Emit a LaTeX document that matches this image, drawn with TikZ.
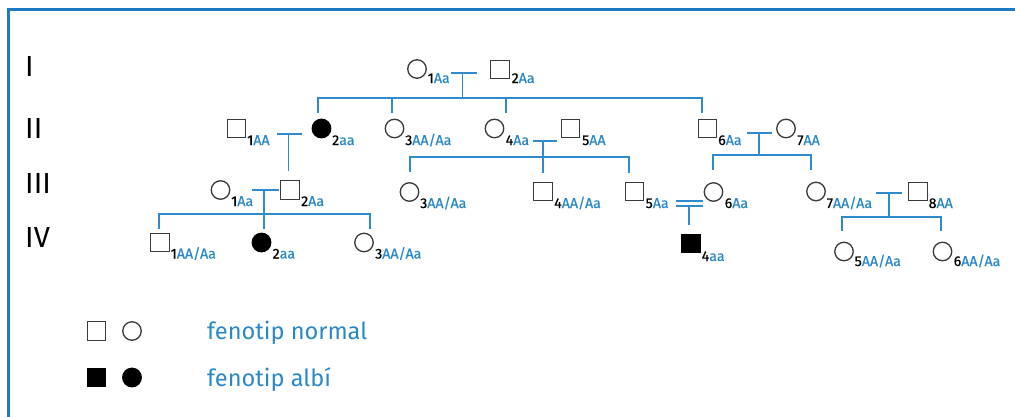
\documentclass[tikz,border=0pt]{standalone}
\usepackage{fontspec}
\setmainfont{Fira Sans}
\definecolor{frameblue}{HTML}{1C7BC0}
\definecolor{lineblue}{HTML}{2F8BCB}
\definecolor{txtblue}{HTML}{2A88C8}
\definecolor{symgray}{HTML}{3A3A3A}
\newcommand{\gt}[1]{\textcolor{txtblue}{#1}}
\tikzset{
  sq/.style={rectangle, draw=symgray, line width=1.3pt, minimum size=18.5pt, inner sep=0pt},
  ci/.style={circle, draw=symgray, line width=1.3pt, minimum size=18.5pt, inner sep=0pt},
  aff/.style={fill=black, draw=black},
  lbl/.style={anchor=base west, inner sep=0pt, font=\fontsize{14.2}{16}\selectfont\addfontfeatures{FakeBold=0.4}},
  gen/.style={anchor=base west, inner sep=0pt, font=\fontsize{29}{30}\selectfont},
  leg/.style={anchor=base west, inner sep=0pt, text=txtblue, font=\fontsize{23.6}{26}\selectfont},
  conn/.style={draw=lineblue, line width=1.5pt},
}
\begin{document}
\begin{tikzpicture}[x=1pt,y=-1pt]
\useasboundingbox (0,0) rectangle (1015,416);
% frame
\draw[frameblue, line width=3pt, line join=miter] (8,418) -- (8,9) -- (1017,9);
% generation labels
\node[gen] (gI) at (25,76) {I};
\node[gen] (gII) at (25,138) {II};
\node[gen] (gIII) at (25,193) {III};
\node[gen] (gIV) at (25,247) {IV};
% generation I
\node[ci] (i1) at (417,69) {};
\node[sq] (i2) at (500,69.5) {};
\node[lbl] (li1) at (427.5,83) {1\gt{Aa}};
\node[lbl] (li2) at (511.5,83) {2\gt{Aa}};
% generation II
\node[sq] (ii1) at (236.5,128.5) {};
\node[ci,aff] (ii2) at (321.5,128.5) {};
\node[ci] (ii3) at (394.5,128.5) {};
\node[ci] (ii4) at (494.5,128.5) {};
\node[sq] (ii5) at (570.5,128.5) {};
\node[sq] (ii6) at (707.5,128.5) {};
\node[ci] (ii7) at (786,128.5) {};
\node[lbl] (lii1) at (247,145) {1\gt{AA}};
\node[lbl] (lii2) at (332,145) {2\gt{aa}};
\node[lbl] (lii3) at (405,145) {3\gt{AA/Aa}};
\node[lbl] (lii4) at (505.5,145) {4\gt{Aa}};
\node[lbl] (lii5) at (582,145) {5\gt{AA}};
\node[lbl] (lii6) at (718,145) {6\gt{Aa}};
\node[lbl] (lii7) at (797,145) {7\gt{AA}};
% generation III
\node[ci] (iii1) at (220.5,190) {};
\node[sq] (iii2) at (290,190) {};
\node[ci] (iii3) at (409.5,192) {};
\node[sq] (iii4) at (543,191.5) {};
\node[sq] (iii5) at (634.5,191.5) {};
\node[ci] (iii6) at (713.5,192) {};
\node[ci] (iii7) at (816,191.5) {};
\node[sq] (iii8) at (918,191.5) {};
\node[lbl] (liii1) at (231,206) {1\gt{Aa}};
\node[lbl] (liii2) at (301,206) {2\gt{Aa}};
\node[lbl] (liii3) at (420,208) {3\gt{AA/Aa}};
\node[lbl] (liii4) at (554,208) {4\gt{AA/Aa}};
\node[lbl] (liii5) at (645.5,208) {5\gt{Aa}};
\node[lbl] (liii6) at (724.5,208) {6\gt{Aa}};
\node[lbl] (liii7) at (826.5,208) {7\gt{AA/Aa}};
\node[lbl] (liii8) at (928.5,208) {8\gt{AA}};
% generation IV
\node[sq] (iv1) at (160,242.5) {};
\node[ci,aff] (iv2) at (261.5,242.5) {};
\node[ci] (iv3) at (364,242.5) {};
\node[sq,aff] (iv4) at (691,243.5) {};
\node[ci] (iv5) at (844,251.5) {};
\node[ci] (iv6) at (942.5,251.5) {};
\node[lbl] (liv1) at (170.5,258.5) {1\gt{AA/Aa}};
\node[lbl] (liv2) at (272.5,258.5) {2\gt{aa}};
\node[lbl] (liv3) at (375,258.5) {3\gt{AA/Aa}};
\node[lbl] (liv4) at (701.5,261) {4\gt{aa}};
\node[lbl] (liv5) at (854.5,266) {5\gt{AA/Aa}};
\node[lbl] (liv6) at (953.5,266) {6\gt{AA/Aa}};
% connector anchor points
\coordinate (m1a) at (451,73);  \coordinate (m1b) at (477,73);
\coordinate (m1c) at (462.5,73);  \coordinate (s1) at (462.5,98);
\coordinate (s1l) at (318,98);  \coordinate (s1r) at (702,98);
\coordinate (d1a) at (318,113); \coordinate (d1b) at (392,113);
\coordinate (d1c) at (506,113); \coordinate (d1d) at (702,113);
\coordinate (s1b) at (392,98);  \coordinate (s1c) at (506,98);
\coordinate (m2a) at (277,134); \coordinate (m2b) at (302,134);
\coordinate (m2c) at (288.5,134); \coordinate (d2) at (288.5,171);
\coordinate (m3a) at (533,141); \coordinate (m3b) at (557,141);
\coordinate (m3c) at (543,141); \coordinate (d3b) at (543,173);
\coordinate (s3l) at (410,157); \coordinate (s3r) at (629,157);
\coordinate (d3a) at (410,172); \coordinate (d3c) at (629,173);
\coordinate (m4a) at (747,133); \coordinate (m4b) at (772,133);
\coordinate (m4c) at (759,133); \coordinate (s4) at (759,155);
\coordinate (s4l) at (713,155); \coordinate (s4r) at (811,155);
\coordinate (d4a) at (713,170); \coordinate (d4b) at (811,170);
\coordinate (m5a) at (252,190); \coordinate (m5b) at (279,190);
\coordinate (m5c) at (264,190); \coordinate (d5b) at (264,229);
\coordinate (s5l) at (159,214); \coordinate (s5r) at (370,214);
\coordinate (d5a) at (159,229); \coordinate (d5c) at (370,229);
\coordinate (m6a) at (676,201); \coordinate (m6b) at (703,201);
\coordinate (m6c) at (676,206); \coordinate (m6d) at (703,206);
\coordinate (m6e) at (689,206); \coordinate (d6) at (689,225);
\coordinate (m7a) at (876,193); \coordinate (m7b) at (902,193);
\coordinate (m7c) at (889,193); \coordinate (s7) at (889,217);
\coordinate (s7l) at (842,217); \coordinate (s7r) at (941,217);
\coordinate (d7a) at (842,231); \coordinate (d7b) at (941,231);
% connectors
\draw[conn] (m1a) -- (m1b);
\draw[conn] (m1c) -- (s1);
\draw[conn] (d1a) -- (s1l) -- (s1r) -- (d1d);
\draw[conn] (s1b) -- (d1b);
\draw[conn] (s1c) -- (d1c);
\draw[conn] (m2a) -- (m2b);
\draw[conn] (m2c) -- (d2);
\draw[conn] (m3a) -- (m3b);
\draw[conn] (m3c) -- (d3b);
\draw[conn] (d3a) -- (s3l) -- (s3r) -- (d3c);
\draw[conn] (m4a) -- (m4b);
\draw[conn] (m4c) -- (s4);
\draw[conn] (d4a) -- (s4l) -- (s4r) -- (d4b);
\draw[conn] (m5a) -- (m5b);
\draw[conn] (m5c) -- (d5b);
\draw[conn] (d5a) -- (s5l) -- (s5r) -- (d5c);
\draw[conn] (m6a) -- (m6b);
\draw[conn] (m6c) -- (m6d);
\draw[conn] (m6e) -- (d6);
\draw[conn] (m7a) -- (m7b);
\draw[conn] (m7c) -- (s7);
\draw[conn] (d7a) -- (s7l) -- (s7r) -- (d7b);
% legend
\node[sq] (lg1) at (96.5,331) {};
\node[ci] (lg2) at (132,331) {};
\node[sq,aff] (lg3) at (96.5,377.5) {};
\node[ci,aff] (lg4) at (132,377.5) {};
\node[leg] (lt1) at (207,339) {fenotip normal};
\node[leg] (lt2) at (207,386) {fenotip albí};
\end{tikzpicture}
\end{document}
